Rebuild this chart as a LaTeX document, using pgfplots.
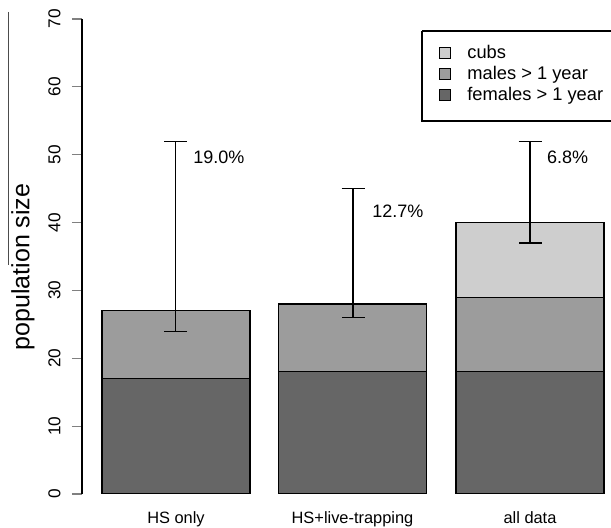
\documentclass[border=0pt]{standalone}
\usepackage{pgfplots}
\pgfplotsset{compat=1.18}
\usepackage{fontspec}
\setmainfont{Liberation Sans}
\definecolor{fem}{RGB}{102,102,102}
\definecolor{mal}{RGB}{156,156,156}
\definecolor{cub}{RGB}{206,206,206}
\begin{document}
\begin{tikzpicture}
\pgfplotsset{
  common/.style={
    scale only axis,
    width=264.5pt, height=237.5pt,
    xmin=82, xmax=611, ymin=0, ymax=70,
  },
  sqleg/.style={legend image code/.code={\draw[##1, line width=0.5pt] (0pt,-2.75pt) rectangle (5.5pt,2.75pt);}},
}
\begin{axis}[
  common,
  ybar stacked, bar width=148,
  axis y line*=left, axis x line*=bottom,
  x axis line style={draw=none},
  y axis line style={-, line width=0.6pt},
  xtick={176,352.5,530},
  xticklabels={HS only, HS+live-trapping, all data},
  xtick style={draw=none},
  xticklabel style={font=\fontsize{8.2}{9}\selectfont, anchor=base, inner sep=0pt, yshift=-10pt},
  ytick={0,10,...,70},
  ytick style={line width=0.6pt},
  tick align=outside, major tick length=5pt,
  yticklabel style={font=\fontsize{8.6}{9}\selectfont, xshift=-5.5pt, rotate=90, anchor=south, inner sep=0pt},
  /pgf/number format/assume math mode=true,
  ylabel={population size},
  ylabel style={font=\fontsize{12.5}{14}\selectfont, at={(axis description cs:-0.1115,0.478)}, anchor=center, inner sep=0pt},
  reverse legend,
  legend style={at={(axis cs:439,66.24)}, anchor=north west, draw=none, fill=none, inner sep=0pt,
    font=\fontsize{9.15}{10}\selectfont, row sep=2pt, column sep=8pt,
    nodes={inner sep=0pt, text height=6.6pt, text depth=1.9pt}},
  legend cell align=left,
]
\addplot[fill=fem, draw=black, line width=0.6pt, sqleg] coordinates {(176,17) (352.5,18) (530,18)};
\addlegendentry{females > 1 year}
\addplot[fill=mal, draw=black, line width=0.6pt, sqleg] coordinates {(176,10) (352.5,10) (530,11)};
\addlegendentry{males > 1 year}
\addplot[fill=cub, draw=black, line width=0.6pt, sqleg] coordinates {(176,0) (352.5,0) (530,11)};
\addlegendentry{cubs}
\draw[line width=0.6pt] (axis cs:422,68.23) -- (axis cs:640,68.23);
\draw[line width=0.6pt] (axis cs:422,68.23) -- (axis cs:422,54.97) -- (axis cs:640,54.97);
\node[anchor=west, inner sep=0pt, font=\fontsize{9}{10}\selectfont] at (axis cs:193,49.6) {19.0\%};
\node[anchor=west, inner sep=0pt, font=\fontsize{9}{10}\selectfont] at (axis cs:372,41.6) {12.7\%};
\node[anchor=west, inner sep=0pt, font=\fontsize{9}{10}\selectfont] at (axis cs:546.7,49.6) {6.8\%};
\end{axis}
\begin{axis}[common, hide axis]
\addplot[draw=none, mark=none,
  error bars/.cd, y dir=both, y explicit,
  error mark=-, error mark options={rotate=90, mark size=5.75pt, line width=0.6pt, black},
  error bar style={line width=0.6pt, black}]
  table[x=x, y=y, y error plus=ep, y error minus=em] {
  x     y   ep  em
  175.5 27  25  3
  353   28  17  2
  530   40  12  3
};
\end{axis}
\draw[line width=0.5pt, black!70] (-36.5pt,241pt) -- (-36.5pt,114.5pt);
\pgfresetboundingbox
\path[use as bounding box] (-41pt,-17pt) rectangle (264.5pt,247pt);
\end{tikzpicture}
\end{document}
